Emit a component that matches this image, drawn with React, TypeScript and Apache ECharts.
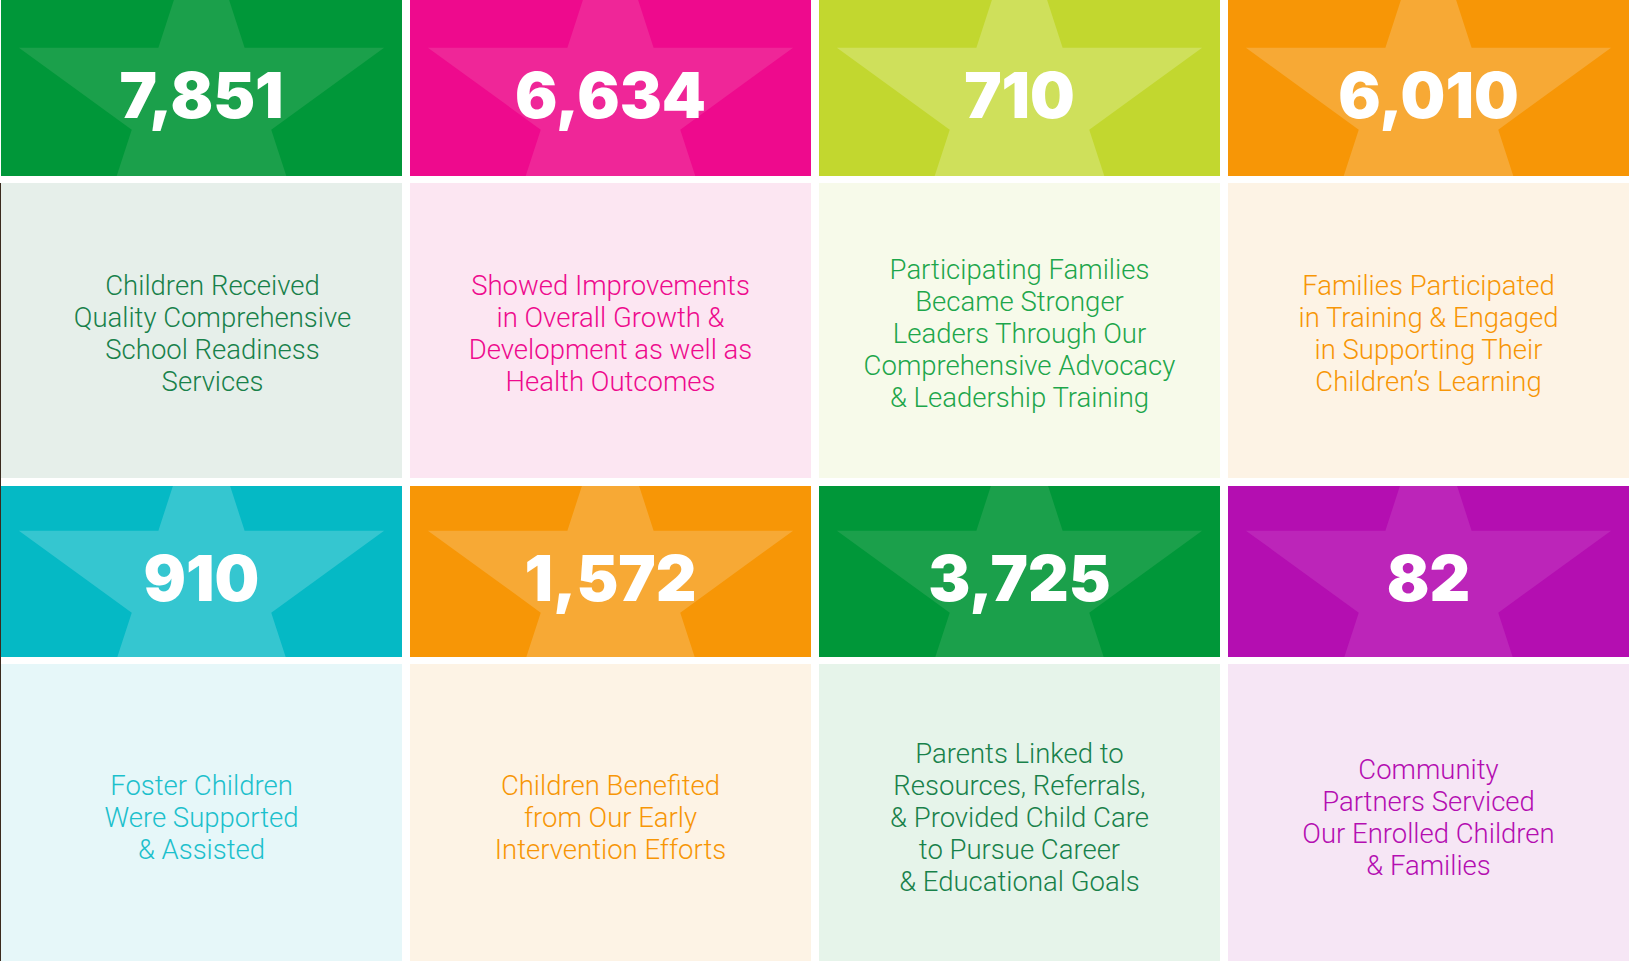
import React, { useEffect, useRef } from "react";
import * as echarts from "echarts";

const columns = ["Col 1", "Col 2", "Col 3", "Col 4"];
const rows = ["Row 1", "Row 2"];
const values = [7851, 6634, 710, 6010, 910, 1572, 3725, 82];
const descriptions = [
  "Children Received\nQuality Comprehensive\nSchool Readiness\nServices",
  "Showed Improvements\nin Overall Growth &\nDevelopment as well as\nHealth Outcomes",
  "Participating Families\nBecame Stronger\nLeaders Through Our\nComprehensive Advocacy\n& Leadership Training",
  "Families Participated\nin Training & Engaged\nin Supporting Their\nChildren’s Learning",
  "Foster Children\nWere Supported\n& Assisted",
  "Children Benefited\nfrom Our Early\nIntervention Efforts",
  "Parents Linked to\nResources, Referrals,\n& Provided Child Care\nto Pursue Career\n& Educational Goals",
  "Community\nPartners Serviced\nOur Enrolled Children\n& Families",
];
const headerColors = ["#009739", "#EE0A8D", "#C2D72F", "#F79606", "#05B9C5", "#F79606", "#009739", "#B40EB1"];
const starColors = ["#1BA04B", "#EF2698", "#CFE05B", "#F7A935", "#35C6D0", "#F7A935", "#1BA04B", "#BC25B9"];
const bodyColors = ["#E6EFEA", "#FCE6F2", "#F7FAEA", "#FDF3E5", "#E6F7F9", "#FDF3E5", "#E6F4EA", "#F6E6F5"];
const textColors = ["#18814A", "#EE0A8D", "#1DA64B", "#F79606", "#1CC0CC", "#F79606", "#18814A", "#B40EB1"];

const GAP = 8;
const HEADER_H = [176, 171];
const STAR_R = 192;
const TEXT_DX: Record<number, number> = { 0: 11 };

function clipPolygon(pts: number[][], x1: number, y1: number, x2: number, y2: number) {
  const edges = [
    (p: number[]) => p[0] >= x1,
    (p: number[]) => p[0] <= x2,
    (p: number[]) => p[1] >= y1,
    (p: number[]) => p[1] <= y2,
  ];
  const inter = [
    (a: number[], b: number[]) => { const t = (x1 - a[0]) / (b[0] - a[0]); return [x1, a[1] + t * (b[1] - a[1])]; },
    (a: number[], b: number[]) => { const t = (x2 - a[0]) / (b[0] - a[0]); return [x2, a[1] + t * (b[1] - a[1])]; },
    (a: number[], b: number[]) => { const t = (y1 - a[1]) / (b[1] - a[1]); return [a[0] + t * (b[0] - a[0]), y1]; },
    (a: number[], b: number[]) => { const t = (y2 - a[1]) / (b[1] - a[1]); return [a[0] + t * (b[0] - a[0]), y2]; },
  ];
  let out = pts;
  for (let e = 0; e < 4; e++) {
    const input = out;
    out = [];
    for (let i = 0; i < input.length; i++) {
      const cur = input[i];
      const prev = input[(i + input.length - 1) % input.length];
      const cin = edges[e](cur);
      const pin = edges[e](prev);
      if (cin) {
        if (!pin) out.push(inter[e](prev, cur));
        out.push(cur);
      } else if (pin) {
        out.push(inter[e](prev, cur));
      }
    }
  }
  return out;
}

export default function App() {
  const ref = useRef<HTMLDivElement>(null);
  useEffect(() => {
    if (!ref.current) return;
    const chart = echarts.init(ref.current, undefined, { renderer: "svg" });
    const data = values.map((v, i) => [i % 4, Math.floor(i / 4), v]);
    chart.setOption({
      animation: false,
      backgroundColor: "#ffffff",
      grid: { left: 1, top: 0, width: 1636, height: 972 },
      xAxis: { type: "category", data: columns, show: false },
      yAxis: { type: "category", data: rows, inverse: true, show: false },
      graphic: [
        { type: "rect", shape: { x: 0, y: 183, width: 1, height: 778 }, style: { fill: "#3b2a1e" }, z: 100 },
      ],
      series: [
        {
          type: "custom",
          clip: false,
          data,
          renderItem: (params: any, api: any) => {
            const i = params.dataIndex;
            const col = api.value(0);
            const row = api.value(1);
            const c = api.coord([col, row]);
            const s = api.size([1, 1]);
            const x0 = c[0] - s[0] / 2;
            const y0 = c[1] - s[1] / 2;
            const w = s[0] - GAP;
            const h = HEADER_H[row] ?? 174;
            const bodyY = y0 + h + 7;
            const bodyH = s[1] - h - 7 - GAP;
            const cx = x0 + w / 2;
            const cy = y0 + h * 0.608;
            const r = STAR_R * 0.382;
            const pts: number[][] = [];
            for (let k = 0; k < 10; k++) {
              const a = ((-90 + k * 36) * Math.PI) / 180;
              const rr = k % 2 === 0 ? STAR_R : r;
              pts.push([cx + rr * Math.cos(a), cy + rr * Math.sin(a)]);
            }
            const star = clipPolygon(pts, x0, y0, x0 + w, y0 + h);
            return {
              type: "group",
              children: [
                { type: "rect", shape: { x: x0, y: y0, width: w, height: h }, style: { fill: headerColors[i] } },
                { type: "polygon", shape: { points: star }, style: { fill: starColors[i] } },
                {
                  type: "text",
                  style: {
                    text: values[i].toLocaleString("en-US"),
                    x: cx,
                    y: cy - 12,
                    align: "center",
                    verticalAlign: "middle",
                    fill: "#ffffff",
                    fontFamily: "Inter",
                    fontWeight: 900,
                    fontSize: 63,
                  },
                },
                { type: "rect", shape: { x: x0, y: bodyY, width: w, height: bodyH }, style: { fill: bodyColors[i] } },
                {
                  type: "text",
                  style: {
                    text: descriptions[i],
                    x: cx + (TEXT_DX[i] || 0),
                    y: bodyY + bodyH / 2 + 3,
                    align: "center",
                    verticalAlign: "middle",
                    fill: textColors[i],
                    fontFamily: "Roboto",
                    fontWeight: 300,
                    fontSize: 27.5,
                    lineHeight: 32,
                  },
                },
              ],
            };
          },
        },
      ],
    });
    return () => chart.dispose();
  }, []);
  return (
    <div style={{ position: "fixed", left: 0, top: 0, width: 1629, height: 961, overflow: "hidden" }}>
      <div ref={ref} style={{ position: "absolute", left: 0, top: 0, width: 1640, height: 975 }} />
    </div>
  );
}
